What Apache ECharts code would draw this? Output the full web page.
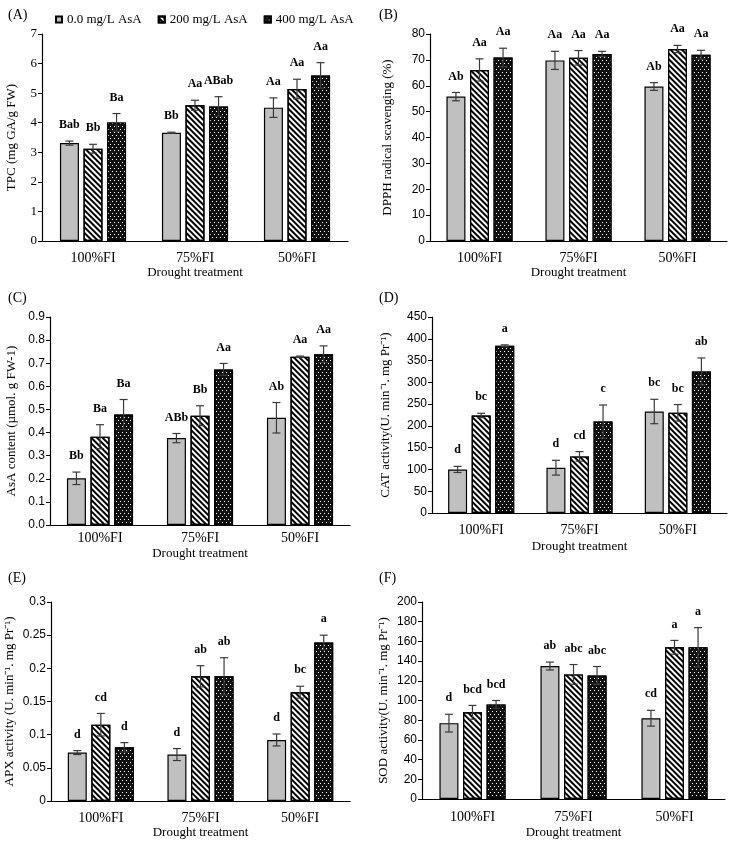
<!DOCTYPE html>
<html>
<head>
<meta charset="utf-8">
<script src="https://cdn.jsdelivr.net/npm/echarts@6/dist/echarts.min.js"></script>
<style>
html, body { margin: 0; padding: 0; background: #fff; }
#chart { width: 744px; height: 842px; }
</style>
</head>
<body>
<div id="chart"></div>
<script>
var categories = ['100%FI', '75%FI', '50%FI'];
var treatments = ['0.0 mg/L AsA', '200 mg/L AsA', '400 mg/L AsA'];

// rows = AsA treatment, columns = drought category
var tpcMean = [[3.31, 3.66, 4.51], [3.12, 4.59, 5.14], [4.01, 4.55, 5.6]];
var tpcErr = [[0.07, 0.02, 0.33], [0.15, 0.17, 0.33], [0.3, 0.33, 0.43]];
var tpcSig = [['Bab', 'Bb', 'Aa'], ['Bb', 'Aa', 'Aa'], ['Ba', 'ABab', 'Aa']];

var dpphMean = [[55.8, 69.8, 59.7], [66.1, 70.8, 74.2], [70.9, 72.3, 72.0]];
var dpphErr = [[1.6, 3.5, 1.5], [4.3, 2.8, 1.4], [3.6, 1.0, 1.7]];
var dpphSig = [['Ab', 'Aa', 'Ab'], ['Aa', 'Aa', 'Aa'], ['Aa', 'Aa', 'Aa']];

var asaMean = [[0.202, 0.376, 0.464], [0.382, 0.473, 0.728], [0.478, 0.673, 0.739]];
var asaErr = [[0.027, 0.02, 0.066], [0.052, 0.043, 0.003], [0.065, 0.026, 0.036]];
var asaSig = [['Bb', 'ABb', 'Ab'], ['Ba', 'Bb', 'Aa'], ['Ba', 'Aa', 'Aa']];

var catMean = [[100, 104, 233], [224, 130, 230], [384, 210, 325]];
var catErr = [[7, 17, 28], [5, 11, 19], [2, 38, 31]];
var catSig = [['d', 'd', 'bc'], ['bc', 'cd', 'bc'], ['a', 'c', 'ab']];

var apxMean = [[0.073, 0.070, 0.092], [0.115, 0.188, 0.164], [0.081, 0.188, 0.239]];
var apxErr = [[0.003, 0.009, 0.009], [0.017, 0.016, 0.009], [0.007, 0.028, 0.011]];
var apxSig = [['d', 'd', 'd'], ['cd', 'ab', 'bc'], ['d', 'ab', 'a']];

var sodMean = [[77, 135, 82], [88, 126.5, 154], [96, 125.5, 154]];
var sodErr = [[9, 4, 8], [7, 10, 7], [4, 9, 20]];
var sodSig = [['d', 'ab', 'cd'], ['bcd', 'abc', 'a'], ['bcd', 'abc', 'a']];

var SERIF = 'Liberation Serif';
var SANS = 'Liberation Sans';
var BAR_W = 19;
var GAP = 0.24;

var barStyles = [
    { color: '#c0c0c0', borderColor: '#000', borderWidth: 1.2 },
    {
        color: '#fff', borderColor: '#000', borderWidth: 1.2,
        decal: { symbol: 'rect', symbolSize: 1, color: '#000', dashArrayX: [1, 0], dashArrayY: [1.5, 1.7], rotation: Math.PI / 4 }
    },
    {
        color: '#111', borderColor: '#000', borderWidth: 1.2,
        decal: { symbol: 'rect', symbolSize: 1, color: '#fff', dashArrayX: [[1, 3], [0, 2, 1, 1]], dashArrayY: [1, 1.6], rotation: 0 }
    }
];

var panels = [
    { tag: '(A)', tagPos: [3, 3], yName: 'TPC (mg GA/g FW)', mean: tpcMean, err: tpcErr, sig: tpcSig,
      max: 7, interval: 1, grid: { left: 42, top: 34, width: 306, height: 207 },
      yGap: 24, labM: 10, xGap: 20, tickFont: SERIF, tickSize: 13 },
    { tag: '(B)', tagPos: [374, 3], yName: 'DPPH radical scavenging (%)', mean: dpphMean, err: dpphErr, sig: dpphSig,
      max: 80, interval: 10, grid: { left: 430, top: 34, width: 297, height: 207 },
      yGap: 36, labM: 10, xGap: 20, tickFont: SANS, tickSize: 12 },
    { tag: '(C)', tagPos: [3, 286], yName: 'AsA content (\u00b5mol. g FW-1)', mean: asaMean, err: asaErr, sig: asaSig,
      max: 0.9, interval: 0.1, grid: { left: 50, top: 317, width: 300, height: 208 },
      yGap: 32, labM: 6, xGap: 22, tickFont: SANS, tickSize: 12, fmt: function (v) { return v.toFixed(1); } },
    { tag: '(D)', tagPos: [374, 286], yName: 'CAT activity(U. min\u207b\u00b9. mg Pr\u207b\u00b9)', mean: catMean, err: catErr, sig: catSig,
      max: 450, interval: 50, grid: { left: 432, top: 317, width: 295, height: 196 },
      yGap: 40, labM: 10, xGap: 27, tickFont: SANS, tickSize: 12 },
    { tag: '(E)', tagPos: [3, 566], yName: 'APX activity (U. min\u207b\u00b9. mg Pr\u207b\u00b9)', mean: apxMean, err: apxErr, sig: apxSig,
      max: 0.3, interval: 0.05, grid: { left: 51, top: 602, width: 299, height: 199 },
      yGap: 35, labM: 10, xGap: 25, tickFont: SANS, tickSize: 12 },
    { tag: '(F)', tagPos: [374, 566], yName: 'SOD activity(U. min\u207b\u00b9. mg Pr\u207b\u00b9)', mean: sodMean, err: sodErr, sig: sodSig,
      max: 200, interval: 20, grid: { left: 422, top: 602, width: 303, height: 197 },
      yGap: 32, labM: 11, xGap: 27, tickFont: SANS, tickSize: 12 }
];

function errorBars(labels) {
    return function (params, api) {
        var c = api.value(0), v = api.value(1), e = api.value(2), k = api.value(3);
        var dx = (k - 1) * BAR_W * (1 + GAP);
        var top = api.coord([c, v + e]);
        var bot = api.coord([c, v - e]);
        var x = top[0] + dx;
        var ls = { stroke: '#3a3a3a', lineWidth: 1.2 };
        return {
            type: 'group',
            children: [
                { type: 'line', shape: { x1: x, y1: top[1], x2: x, y2: bot[1] }, style: ls },
                { type: 'line', shape: { x1: x - 4, y1: top[1], x2: x + 4, y2: top[1] }, style: ls },
                { type: 'line', shape: { x1: x - 4, y1: bot[1], x2: x + 4, y2: bot[1] }, style: ls },
                { type: 'text', x: x, y: top[1] - 10,
                  style: { text: labels[params.dataIndex], align: 'center', verticalAlign: 'bottom',
                           font: 'bold 12px "' + SERIF + '"', fill: '#000' } }
            ]
        };
    };
}

var grids = [], xAxes = [], yAxes = [], series = [], titles = [];

panels.forEach(function (p, i) {
    grids.push(p.grid);
    titles.push({ text: p.tag, left: p.tagPos[0], top: p.tagPos[1],
        textStyle: { fontFamily: SERIF, fontSize: 14, fontWeight: 'normal', color: '#000' } });
    xAxes.push({
        type: 'category', gridIndex: i, data: categories,
        name: 'Drought treatment', nameLocation: 'middle', nameGap: p.xGap,
        nameTextStyle: { fontFamily: SERIF, fontSize: 13, color: '#000' },
        axisLine: { lineStyle: { color: '#000', width: 1.2 } },
        axisTick: { show: false },
        axisLabel: { margin: p.labM, fontFamily: SERIF, fontSize: 14, color: '#000' }
    });
    yAxes.push({
        type: 'value', gridIndex: i, min: 0, max: p.max, interval: p.interval,
        name: p.yName, nameLocation: 'middle', nameGap: p.yGap,
        nameTextStyle: { fontFamily: SERIF, fontSize: 13, color: '#000' },
        axisLine: { show: true, lineStyle: { color: '#000', width: 1.2 } },
        axisTick: { show: true, inside: false, length: 4, lineStyle: { color: '#000' } },
        splitLine: { show: false },
        axisLabel: { margin: 5, fontFamily: p.tickFont, fontSize: p.tickSize, color: '#000', formatter: p.fmt }
    });
    var rows = [], labels = [];
    treatments.forEach(function (t, k) {
        series.push({
            type: 'bar', name: t, xAxisIndex: i, yAxisIndex: i,
            data: p.mean[k], barWidth: BAR_W, barGap: (GAP * 100) + '%',
            itemStyle: barStyles[k], z: 2
        });
        categories.forEach(function (c, j) {
            rows.push([j, p.mean[k][j], p.err[k][j], k]);
            labels.push(p.sig[k][j]);
        });
    });
    series.push({
        type: 'custom', xAxisIndex: i, yAxisIndex: i, z: 3,
        renderItem: errorBars(labels), data: rows,
        encode: { x: 0, y: 1 }, silent: true
    });
});

var myChart = echarts.init(document.getElementById('chart'));
var option = {
    animation: false,
    backgroundColor: '#fff',
    textStyle: { fontFamily: SERIF },
    title: titles,
    legend: {
        data: treatments, left: 50, top: 8, itemWidth: 6, itemHeight: 6, itemGap: 16,
        icon: 'rect',
        textStyle: { fontFamily: SERIF, fontSize: 13, color: '#000' }
    },
    grid: grids,
    xAxis: xAxes,
    yAxis: yAxes,
    series: series
};
myChart.setOption(option);
</script>
</body>
</html>
